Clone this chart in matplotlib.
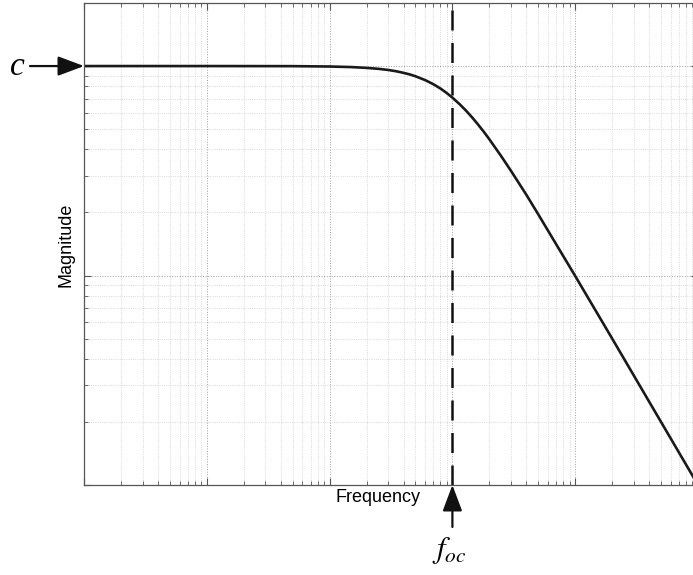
import numpy as np
import matplotlib.pyplot as plt

# magnitude response (log-log)
freq = [1, 10, 50, 100, 150, 200, 250, 300, 350, 400, 450, 500, 600, 700, 800, 900,
        1000, 1150, 1300, 1450, 1600, 1800, 2000, 2500, 3000, 4000, 5000, 7000,
        10000, 20000, 50000, 100000]
mag = [1.0, 1.0, 0.999, 0.995, 0.989, 0.98, 0.97, 0.958, 0.944, 0.928, 0.912, 0.894,
       0.857, 0.819, 0.781, 0.743, 0.707, 0.656, 0.61, 0.568, 0.53, 0.486, 0.447,
       0.371, 0.316, 0.243, 0.196, 0.141, 0.0995, 0.05, 0.02, 0.01]
f_corner = 1000
c_level = 1.0

plt.rcParams['mathtext.fontset'] = 'stix'

fig = plt.figure(figsize=(6.93, 5.75), dpi=100)
ax = fig.add_axes([84 / 693, 90 / 575, 614 / 693, 482 / 575])

ax.loglog(freq, mag, color='#1a1a1a', lw=1.9, solid_capstyle='butt')
ax.axvline(f_corner, color='#111111', lw=1.8, dashes=(8, 5))

ax.set_xlim(1, 1e5)
ax.set_ylim(0.01, 2)

ax.grid(which='major', linestyle=':', color='#a0a0a0', lw=0.7)
ax.grid(which='minor', linestyle=':', color='#cccccc', lw=0.6)
ax.tick_params(which='both', direction='in', top=True, right=True,
               labelbottom=False, labelleft=False, color='#555555')
ax.tick_params(which='major', length=5, width=0.8)
ax.tick_params(which='minor', length=3, width=0.6)
for s in ax.spines.values():
    s.set_color('#555555')
    s.set_linewidth(0.9)

ax.set_xlabel('Frequency', family='Liberation Sans', fontsize=13)
ax.set_ylabel('Magnitude', family='Liberation Sans', fontsize=13)
ax.xaxis.set_label_coords((378 - 84) / 614, -4 / 482)
ax.yaxis.set_label_coords(-10 / 614, (485 - 245) / 482)

arrow = dict(arrowstyle='-|>,head_length=0.8,head_width=0.3',
             color='#111111', lw=1.6, shrinkA=0, shrinkB=0, mutation_scale=20)

# c arrow on the left
ax.annotate('', xy=(1, c_level), xytext=(-54, 0), textcoords='offset pixels',
            arrowprops=arrow, annotation_clip=False)
ax.annotate('c', xy=(1, c_level), xytext=(-67, -9), textcoords='offset pixels',
            ha='center', va='baseline', fontsize=24, family='Liberation Serif',
            style='italic', annotation_clip=False)

# f_oc arrow under the axis
ax.annotate('', xy=(f_corner, 0.01), xytext=(0, -42), textcoords='offset pixels',
            arrowprops=arrow, annotation_clip=False)
ax.annotate(r'$f_{oc}$', xy=(f_corner, 0.01), xytext=(-3, -66), textcoords='offset pixels',
            ha='center', va='center', fontsize=22, annotation_clip=False)

fig.savefig('out.png', dpi=100)
